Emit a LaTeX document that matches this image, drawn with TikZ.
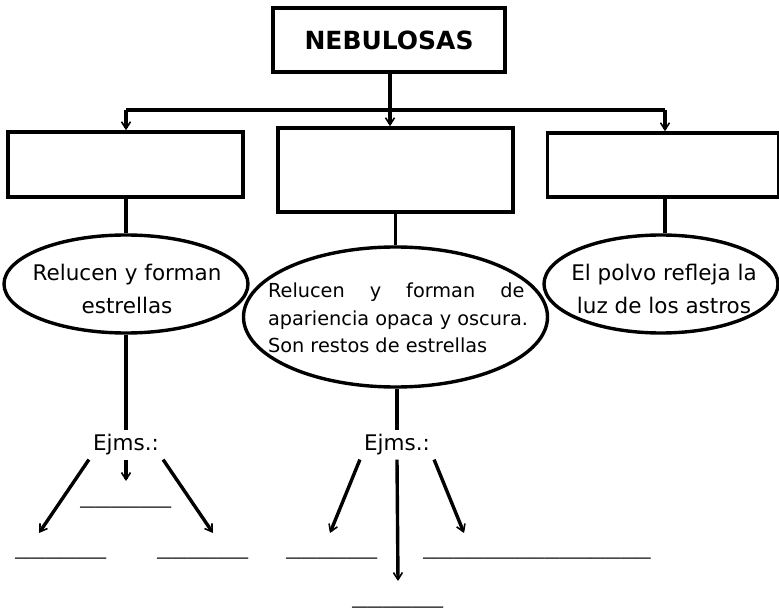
\documentclass[tikz,border=0pt]{standalone}
\usepackage{fontspec}
\setmainfont{DejaVu Sans}
\newfontfamily\ulfont{Liberation Mono}
\usetikzlibrary{shapes.geometric,arrows.meta}
\begin{document}
\begin{tikzpicture}[x=1pt,y=-1pt,
  box/.style={draw,line width=3.6pt,rectangle,inner sep=0pt},
  oval/.style={draw,line width=3.4pt,ellipse,inner sep=0pt},
  otext/.style={inner sep=0pt,align=center,font=\fontsize{21.5}{33}\selectfont},
  conn/.style={line width=3.6pt},
  arr/.style={line width=3.4pt,-{Straight Barb[length=7pt,width=9pt,line width=1.6pt]}},
  ejm/.style={font=\fontsize{21.5}{25}\selectfont,inner sep=4pt},
  blank/.style={font=\ulfont\bfseries\fontsize{25.3}{30}\selectfont,inner sep=0pt,anchor=base west}]
\useasboundingbox[fill=white] (0,0) rectangle (779,612);

% top
\node[box,minimum width=232pt,minimum height=64pt,font=\bfseries\fontsize{25}{30}\selectfont] (top) at (389,40) {NEBULOSAS};
\node[box,minimum width=235pt,minimum height=65pt] (lbox) at (125.5,164.5) {};
\node[box,minimum width=235pt,minimum height=84pt] (mbox) at (395.5,170) {};
\node[box,minimum width=231pt,minimum height=64pt] (rbox) at (663,165) {};

\coordinate (busL) at (126,110);
\coordinate (busR) at (665,110);
\coordinate (busM) at (390,110);
\draw[line width=3.6pt] (busL) -- (busR);
\draw[arr] (top.south -| busM) -- (mbox.north -| busM);
\draw[arr] (busL) -- (lbox.north -| busL);
\draw[arr] (busR) -- (rbox.north -| busR);

% ellipses
\node[oval,minimum width=244pt,minimum height=98pt] (lell) at (126,284) {};
\node[otext] (lellt) at (127,289) {Relucen y forman\\estrellas};
\node[oval,minimum width=304pt,minimum height=140pt] (mell) at (395.5,317) {};
\node[inner sep=0pt,align=left,font=\fontsize{19.3}{27.5}\selectfont] (mellt) at (398,318)
 {Relucen\hspace{25pt}y\hspace{25pt}forman\hspace{25pt}de\\apariencia opaca y oscura.\\Son restos de estrellas};
\node[oval,minimum width=234pt,minimum height=98pt] (rell) at (661,284) {};
\node[otext] (rellt) at (664,289) {El polvo refleja la\\luz de los astros};

\draw[conn] (lbox.south -| busL) -- (lell.north -| busL);
\draw[conn] (mbox.south) -- (mell.north);
\draw[conn] (rbox.south -| busR) -- (rell.north -| busR);

% examples
\node[ejm] (e1) at (126,445) {Ejms.:};
\node[ejm] (e2) at (397,445) {Ejms.:};
\draw[conn] (lell.south) -- (e1.north);
\draw[conn] (mell.south -| e2) -- (e2.north);

\coordinate (t1) at (39,533);
\coordinate (t2) at (126,481);
\coordinate (t3) at (213,533);
\coordinate (t4) at (330,533);
\coordinate (t5) at (398,581);
\coordinate (t6) at (464,533);
\draw[arr] (e1.south west) -- (t1);
\draw[arr] (e1.south) -- (t2);
\draw[arr] (e1.south east) -- (t3);
\draw[arr] (e2.south west) -- (t4);
\draw[arr] (e2.south) -- (t5);
\draw[arr] (e2.south east) -- (t6);

% blanks
\node[blank] (b1) at (80,505) {\_\_\_\_\_\_};
\node[blank] (b2) at (15,556) {\_\_\_\_\_\_};
\node[blank] (b3) at (157,556) {\_\_\_\_\_\_};
\node[blank] (b4) at (286,556) {\_\_\_\_\_\_};
\node[blank] (b5) at (423,556) {\_\_\_\_\_\_\_\_\_\_\_\_\_\_\_};
\node[blank] (b6) at (352,605) {\_\_\_\_\_\_};
\end{tikzpicture}
\end{document}
